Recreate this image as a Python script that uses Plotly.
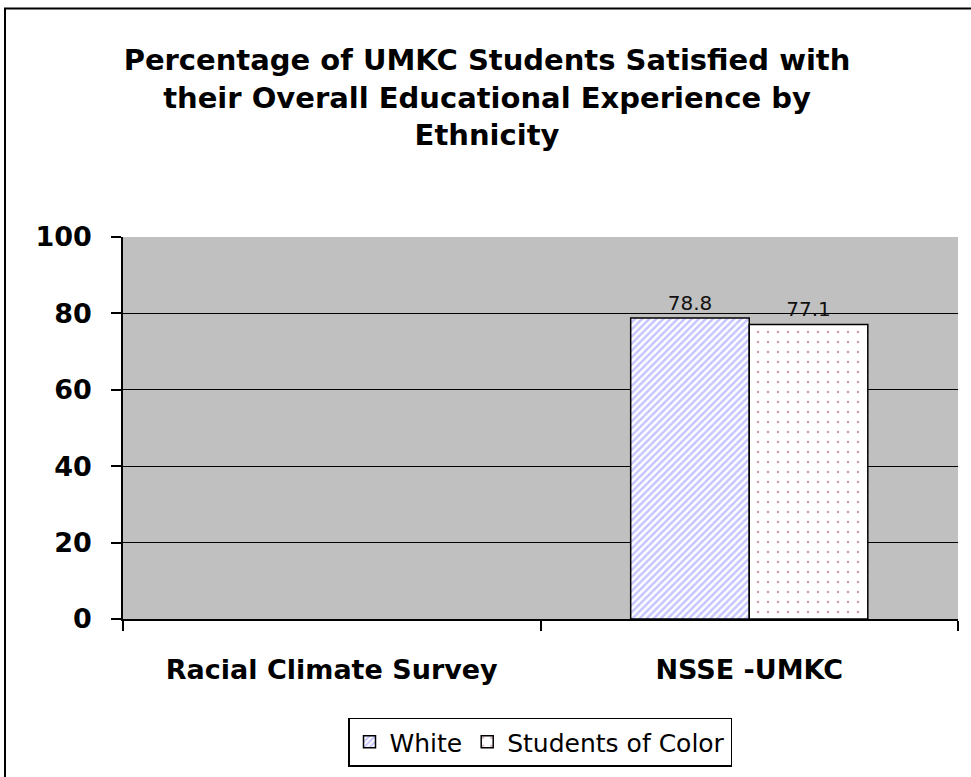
import plotly.graph_objects as go

categories = ["Racial Climate Survey", "NSSE -UMKC"]
white_vals = [None, 78.8]
soc_vals = [None, 77.1]
series_names = ["White", "Students of Color"]
y_ticks = [0, 20, 40, 60, 80, 100]

W, H = 971, 777
L, R, T, B = 123, 13, 237, 157
pw, ph = W - L - R, H - T - B
FONT = "DejaVu Sans, Arial"

def px_x(x):
    return (x - L) / pw

def px_y(y):
    return (H - B - y) / ph

fig = go.Figure()
fig.add_trace(go.Bar(
    x=categories, y=white_vals, name=series_names[0],
    text=[None if v is None else f"{v:.1f}" for v in white_vals],
    textposition="outside", cliponaxis=False,
    textfont=dict(family=FONT, size=20, color="#111111"),
    marker=dict(color="white", line=dict(color="black", width=1.5),
                pattern=dict(shape="/", fgcolor="#8C8CFF", bgcolor="white", size=5, solidity=0.5)),
))
fig.add_trace(go.Bar(
    x=categories, y=soc_vals, name=series_names[1],
    text=[None if v is None else f"{v:.1f}" for v in soc_vals],
    textposition="outside", cliponaxis=False,
    textfont=dict(family=FONT, size=20, color="#111111"),
    marker=dict(color="white", line=dict(color="black", width=1.5),
                pattern=dict(shape=".", fgcolor="#993366", bgcolor="white", size=10, solidity=0.05)),
))

fig.update_layout(
    width=W, height=H,
    margin=dict(l=L, r=R, t=T, b=B),
    paper_bgcolor="white", plot_bgcolor="#C0C0C0",
    barmode="group", bargap=0.432, bargroupgap=0,
    font=dict(family=FONT, color="black"),
    title=dict(
        text="<b>Percentage of UMKC Students Satisfied with<br>their Overall Educational Experience by<br>Ethnicity</b>",
        x=px_x(487), xref="paper", xanchor="center",
        y=1 - 70 / H, yref="container", yanchor="top",
        font=dict(size=29, family=FONT, color="black"),
    ),
    xaxis=dict(
        showline=True, linecolor="black", linewidth=1.5,
        ticks="outside", ticklen=10, tickcolor="black", tickwidth=1.5,
        tickson="boundaries", showgrid=False, ticklabelstandoff=26,
        tickfont=dict(size=27, family=FONT, color="black", weight="bold"),
        range=[-0.5, 1.5],
    ),
    yaxis=dict(
        range=[0, 100], tickvals=y_ticks,
        showline=True, linecolor="black", linewidth=1.5,
        ticks="outside", ticklen=10, tickcolor="black", tickwidth=1.5,
        showgrid=True, gridcolor="black", gridwidth=1,
        ticklabelstandoff=14,
        tickfont=dict(size=27, family=FONT, color="black", weight="bold"),
        zeroline=False,
    ),
    legend=dict(
        orientation="h", x=px_x(540), xanchor="center", y=px_y(742), yanchor="middle",
        bordercolor="black", borderwidth=1.5, bgcolor="white",
        font=dict(size=25, family=FONT, color="black"),
        traceorder="normal", itemwidth=30,
    ),
    showlegend=True,
)

fig.add_shape(type="rect", xref="paper", yref="paper",
              x0=px_x(5), x1=px_x(975), y0=px_y(785), y1=px_y(8),
              line=dict(color="black", width=2), fillcolor="rgba(0,0,0,0)", layer="below")

fig.write_html("out.html")
